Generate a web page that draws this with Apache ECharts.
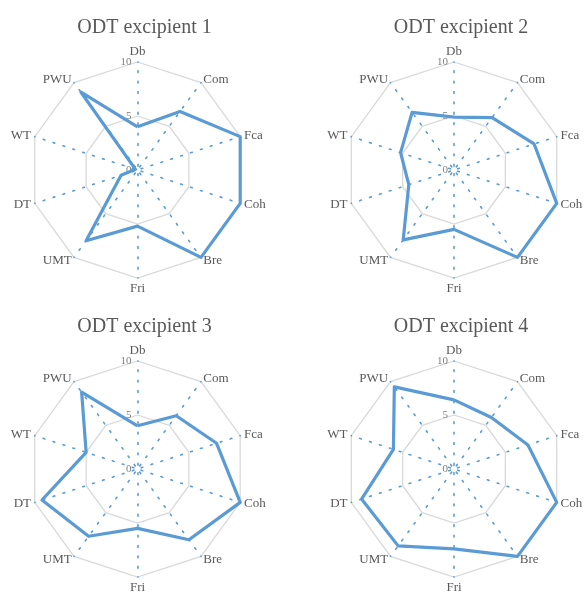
<!DOCTYPE html>
<html>
<head>
<meta charset="utf-8">
<script src="https://cdn.jsdelivr.net/npm/echarts@6/dist/echarts.min.js"></script>
<style>
  html, body { margin: 0; padding: 0; background: #fff; }
  #main { width: 584px; height: 595px; }
</style>
</head>
<body>
<div id="main"></div>
<script>
// axes in clockwise order, starting at the top
const indicators = ['Db', 'Com', 'Fca', 'Coh', 'Bre', 'Fri', 'UMT', 'DT', 'WT', 'PWU'];
const titles = ['ODT excipient 1', 'ODT excipient 2', 'ODT excipient 3', 'ODT excipient 4'];

const excipient1 = [4.0, 6.7, 10, 10, 10, 5.2, 8.1, 1.6, 0.2, 8.9];
const excipient2 = [4.9, 6.0, 7.8, 10, 10, 5.5, 8.0, 4.4, 5.2, 6.6];
const excipient3 = [4.0, 6.1, 7.7, 10, 8.1, 5.5, 7.7, 9.3, 5.0, 8.8];
const excipient4 = [6.4, 5.9, 7.2, 10, 10, 7.4, 8.8, 9.0, 5.9, 9.4];

const radialTicks = [0, 5, 10];

const allData = [excipient1, excipient2, excipient3, excipient4];
const centers = [[137.5, 170], [454, 170], [137.5, 469], [454, 469]];
const radius = 108;
const blue = '#5B9BD5';
const grey = '#595959';
const serif = '"Liberation Serif", "Times New Roman", serif';

// echarts lays radar axes out counter-clockwise, so keep the first one and reverse the rest
function reorder(arr) {
  return [arr[0]].concat(arr.slice(1).reverse());
}

var chart = echarts.init(document.getElementById('main'));

var radar = [];
var polar = [];
var angleAxis = [];
var radiusAxis = [];
var series = [];
var title = [];

for (var i = 0; i < 4; i++) {
  var c = centers[i];
  title.push({
    text: titles[i],
    left: c[0] + 2,
    top: c[1] - 157,
    textAlign: 'center',
    textStyle: { fontFamily: serif, fontSize: 20, fontWeight: 'normal', color: grey }
  });
  radar.push({
    center: c,
    radius: radius,
    startAngle: 90,
    shape: 'polygon',
    splitNumber: 2,
    indicator: reorder(indicators).map(function (n) { return { name: n, min: 0, max: 10 }; }),
    axisName: { fontFamily: serif, fontSize: 13, color: grey },
    nameGap: 4,
    // dots every ~10.4px, first one a few px off the centre, last one on the outer ring
    axisLine: { lineStyle: { color: blue, width: 1.6, type: [1.8, 8.6], dashOffset: 6.6 } },
    splitLine: { lineStyle: { color: '#D9D9D9', width: 1.3 } },
    splitArea: { show: false },
    axisTick: { show: false },
    axisLabel: { show: false }
  });
  // polar overlay just to print 0 / 5 / 10 along the top axis
  polar.push({ center: c, radius: radius });
  angleAxis.push({ polarIndex: i, startAngle: 90, show: false, min: 0, max: 360 });
  radiusAxis.push({
    polarIndex: i,
    min: radialTicks[0],
    max: radialTicks[radialTicks.length - 1],
    interval: radialTicks[1] - radialTicks[0],
    axisLine: { show: false },
    axisTick: { show: false },
    splitLine: { show: false },
    axisLabel: { show: true, fontFamily: serif, fontSize: 11, color: '#7f7f7f', margin: 6 }
  });
  series.push({
    type: 'radar',
    radarIndex: i,
    symbol: 'none',
    silent: true,
    lineStyle: { color: blue, width: 3.2 },
    data: [{ value: reorder(allData[i]), name: titles[i] }]
  });
}

chart.setOption({
  animation: false,
  backgroundColor: '#fff',
  title: title,
  radar: radar,
  polar: polar,
  angleAxis: angleAxis,
  radiusAxis: radiusAxis,
  series: series
});
</script>
</body>
</html>
